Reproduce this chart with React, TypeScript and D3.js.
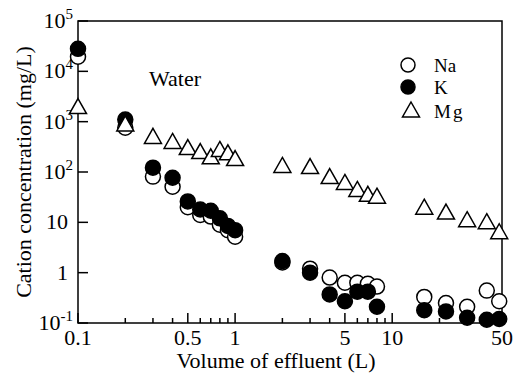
import * as d3 from 'd3';
import React from 'react';

// effluent volume (L) and cation concentrations (mg/L)
const volume = [0.1, 0.2, 0.3, 0.4, 0.5, 0.6, 0.7, 0.8, 0.9, 1.0, 2, 3, 4, 5, 6, 7, 8, 16, 22, 30, 40, 48];
const na = [19500, 760, 81, 51, 20, 14, 13, 9, 7, 5.2, 1.6, 1.2, 0.8, 0.63, 0.63, 0.6, 0.53, 0.33, 0.25, 0.21, 0.44, 0.27];
const k = [28000, 1100, 122, 77, 26, 18, 17, 12, 8.5, 7, 1.7, 1.0, 0.37, 0.27, 0.42, 0.42, 0.21, 0.18, 0.17, 0.127, 0.116, 0.12];
const mg = [2000, 900, 510, 405, 305, 255, 200, 280, 240, 185, 135, 128, 81, 62, 45, 36, 33, 20, 16, 11.3, 10.3, 6.5];

const xMajor = [0.1, 0.5, 1, 5, 10, 50];
const xMinor = [0.2, 0.3, 0.4, 0.6, 0.7, 0.8, 0.9, 2, 3, 4, 6, 7, 8, 9, 20, 30, 40];
const yTicks = [0.1, 1, 10, 100, 1000, 10000, 100000];

const width = 519;
const height = 381;
const margin = { top: 21, right: 17, bottom: 58, left: 78 };
const font = "'Liberation Serif', 'Times New Roman', 'DejaVu Serif', 'Nimbus Roman', 'FreeSerif', serif";
const fs = 22;

const tri = (cx: number, cy: number) => `M${cx},${cy - 8}L${cx + 8.5},${cy + 7}L${cx - 8.5},${cy + 7}Z`;

const yLabel = (v: number) => {
    if (v === 1) return <>1</>;
    if (v === 10) return <>10</>;
    const e = Math.round(Math.log10(v));
    return (
        <>
            10<tspan fontSize={15} dy={-9}>{e}</tspan>
        </>
    );
};

const App: React.FC = () => {
    const x = d3.scaleLog().domain([0.1, 50]).range([margin.left, width - margin.right]);
    const y = d3.scaleLog().domain([0.1, 1e5]).range([height - margin.bottom, margin.top]);
    const [x0, x1] = x.range();
    const [y0, y1] = y.range();

    return (
        <svg width={width} height={height} style={{ position: 'absolute', left: 0, top: 0, fontFamily: font }}>
            <rect width={width} height={height} fill="white" />
            {/* frame */}
            <rect x={x0} y={y1} width={x1 - x0} height={y0 - y1} fill="none" stroke="black" strokeWidth={1.5} />
            {/* y ticks */}
            {yTicks.map((t) => (
                <g key={t}>
                    <line x1={x0} x2={x0 + 10} y1={y(t)} y2={y(t)} stroke="black" strokeWidth={1.5} />
                    <text x={t === 1 || t === 10 ? 68 : 73} y={y(t) + 7} textAnchor="end" fontSize={fs}>
                        {yLabel(t)}
                    </text>
                </g>
            ))}
            {/* x ticks */}
            {xMajor.map((t) => (
                <g key={t}>
                    <line x1={x(t)} x2={x(t)} y1={y0} y2={y0 - 10} stroke="black" strokeWidth={1.5} />
                    <text x={x(t)} y={y0 + 22} textAnchor="middle" fontSize={fs}>
                        {t}
                    </text>
                </g>
            ))}
            {xMinor.map((t) => (
                <line key={t} x1={x(t)} x2={x(t)} y1={y0} y2={y0 - 5} stroke="black" strokeWidth={1.5} />
            ))}
            {/* axis titles */}
            <text x={276} y={368} textAnchor="middle" fontSize={fs}>
                Volume of effluent (L)
            </text>
            <text transform={`translate(31,${(y0 + y1) / 2}) rotate(-90)`} textAnchor="middle" fontSize={fs}>
                Cation concentration (mg/L)
            </text>
            <text x={149} y={86} fontSize={fs}>
                Water
            </text>
            {/* data */}
            <g fill="white" stroke="black" strokeWidth={1.5}>
                {volume.map((v, i) => (
                    <circle key={i} cx={x(v)} cy={y(na[i])} r={7.5} />
                ))}
            </g>
            <g fill="black" stroke="black" strokeWidth={1.5}>
                {volume.map((v, i) => (
                    <circle key={i} cx={x(v)} cy={y(k[i])} r={7.5} />
                ))}
            </g>
            <g fill="white" stroke="black" strokeWidth={1.5}>
                {volume.map((v, i) => (
                    <path key={i} d={tri(x(v), y(mg[i]))} />
                ))}
            </g>
            {/* legend */}
            <g stroke="black" strokeWidth={1.5}>
                <circle cx={408} cy={65} r={7} fill="white" />
                <circle cx={408} cy={87} r={7} fill="black" />
                <path d={tri(411, 110)} fill="white" />
            </g>
            <g fontSize={19}>
                <text x={434} y={72}>Na</text>
                <text x={434} y={94}>K</text>
                <text x={434} y={118} letterSpacing={2}>Mg</text>
            </g>
        </svg>
    );
};

export default App;
